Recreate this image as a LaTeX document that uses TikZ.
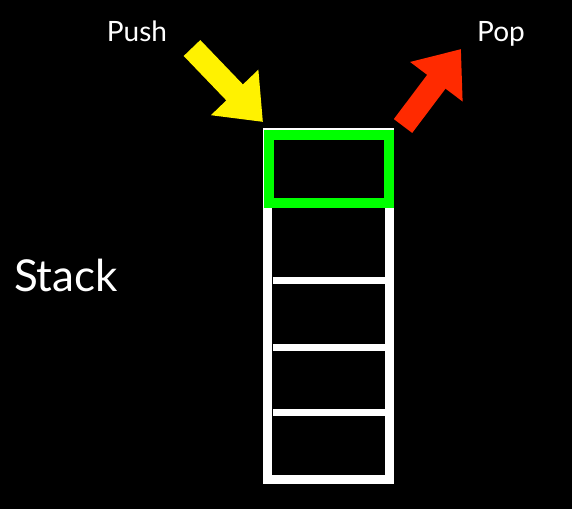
\documentclass[tikz,border=0pt]{standalone}
\usepackage{fontspec}
\setmainfont{Lato}
\usetikzlibrary{arrows.meta,positioning}

\definecolor{popred}{HTML}{FF2A00}
\definecolor{topgreen}{HTML}{00FF00}

\begin{document}
\begin{tikzpicture}[
    x=1pt, y=-1pt,
    label/.style={text=white, anchor=base, inner sep=0pt},
    slot/.style={draw=white, line width=9pt, minimum width=122pt, minimum height=347pt},
    topslot/.style={draw=topgreen, line width=9.5pt, minimum width=120pt, minimum height=68pt},
    divider/.style={draw=white, line width=7pt},
    fat/.style={line width=23pt, -{Triangle[width=63pt, length=41pt]}}
]

\fill[black] (0,0) rectangle (572,509);

\node (stack) [slot] at (328.5,306) {};
\node (top) [topslot] at (329,169) {};

\foreach \y in {280,347,412}
    \draw [divider] (273,\y) -- (385,\y);

\node (push) [label, font=\fontsize{28}{32}\selectfont] at (137,41) {Push};
\node (pop) [label, font=\fontsize{28}{32}\selectfont] at (501,41) {Pop};
\node (name) [label, font=\fontsize{44}{52}\selectfont] at (66,291) {Stack};

\coordinate (pushtail) at (192,48);
\coordinate (pushtip) at (263,122);
\coordinate (poptail) at (403,126);
\coordinate (poptip) at (461,49);

\draw [fat, yellow] (pushtail) -- (pushtip);
\draw [fat, popred] (poptail) -- (poptip);

\end{tikzpicture}
\end{document}
